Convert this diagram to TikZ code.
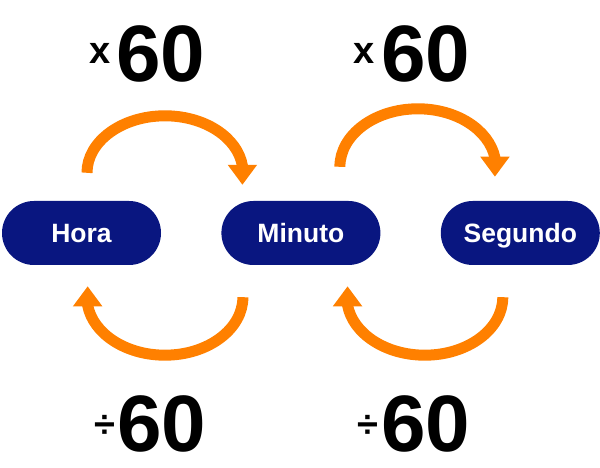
\documentclass[tikz,border=0pt]{standalone}
\usepackage{fontspec}
\setmainfont{Liberation Sans}
\usetikzlibrary{positioning,arrows.meta}
\definecolor{unitblue}{RGB}{9,22,128}
\definecolor{convorange}{RGB}{255,128,0}

\begin{document}
\begin{tikzpicture}[x=1pt,y=1pt,
    unit/.style={fill=unitblue, text=white, rounded corners=32pt,
      minimum width=159pt, minimum height=64pt, inner sep=0pt,
      text height=19pt, text depth=0pt,
      font=\fontsize{26.5}{30}\selectfont\bfseries},
    conv/.style={draw=convorange, line width=11pt,
      -{Triangle[width=28pt,length=20pt]}},
    factor/.style={inner sep=0pt, anchor=base,
      font=\fontsize{80}{80}\selectfont\bfseries},
    sign/.style={inner sep=0pt, font=\fontsize{38}{38}\selectfont\bfseries}]
  \useasboundingbox (0,0) rectangle (600,468);

  % Units
  \node[unit] (hora) at (81.5,235) {Hora};
  \node[unit, right=60pt of hora] (minuto) {Minuto};
  \node[unit, right=60pt of minuto] (segundo) {Segundo};

  % Multiply
  \draw[conv] ([xshift=5.5pt,yshift=28pt]hora.north)
    arc[start angle=180, end angle=7, x radius=78pt, y radius=57pt]
    -- ++(0,-19pt);
  \draw[conv] ([xshift=39pt,yshift=34pt]minuto.north)
    arc[start angle=180, end angle=9, x radius=78pt, y radius=58pt]
    -- ++(0,-19pt);

  % Divide
  \draw[conv] ([xshift=-58pt,yshift=-32pt]minuto.south)
    arc[start angle=0, end angle=-172, x radius=78pt, y radius=58pt]
    -- ++(0,19pt);
  \draw[conv] ([xshift=-17.5pt,yshift=-32pt]segundo.south)
    arc[start angle=0, end angle=-172, x radius=78pt, y radius=58pt]
    -- ++(0,19pt);

  % Factors
  \node[factor] (mul1) at (160.5,386) {60};
  \node[sign] (mulsign1) at ([xshift=-60.5pt,yshift=29pt]mul1.base) {x};
  \node[factor] (mul2) at (425.5,386) {60};
  \node[sign] (mulsign2) at ([xshift=-61pt,yshift=29pt]mul2.base) {x};

  \node[factor] (div1) at (161.5,16) {60};
  \node[sign] (divsign1) at ([xshift=-57pt,yshift=26pt]div1.base) {÷};
  \node[factor] (div2) at (425.5,16) {60};
  \node[sign] (divsign2) at ([xshift=-58pt,yshift=26pt]div2.base) {÷};
\end{tikzpicture}
\end{document}
